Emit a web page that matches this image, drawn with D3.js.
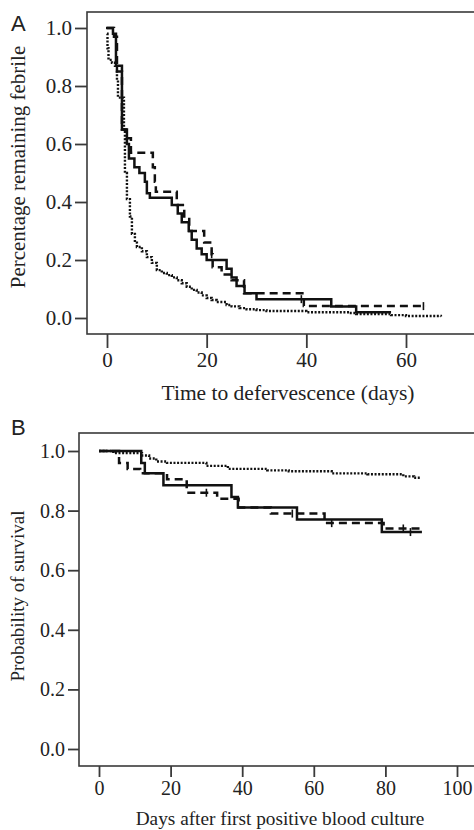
<!DOCTYPE html>
<html><head><meta charset="utf-8">
<script src="https://cdn.jsdelivr.net/npm/d3@7"></script>
<style>
html,body{margin:0;padding:0;background:#fff;}
svg{display:block;}
text{font-family:"Liberation Serif","Times New Roman",serif;fill:#222;}
</style></head>
<body>
<svg id="chart" width="474" height="830"></svg>
<script>
// ---------- Panel A data: [day, proportion remaining febrile] (step changes) ----------
const aSolid = [[0,1],[1.2,0.98],[1.8,0.87],[3,0.65],[4,0.6],[4.4,0.55],[5.5,0.52],[6.5,0.5],[7.6,0.47],[8,0.43],[8.6,0.415],[13,0.39],[14.2,0.36],[15,0.33],[16.4,0.3],[17,0.27],[18,0.24],[19,0.22],[20,0.2],[24,0.17],[25,0.14],[26,0.11],[27.6,0.085],[30,0.065],[45,0.04],[50,0.02],[57,0.02]];
const aDashed = [[-0.2,1],[1.4,0.97],[2,0.85],[3,0.65],[3.8,0.62],[4.8,0.57],[9.2,0.52],[9.6,0.47],[9.8,0.435],[14,0.39],[15.5,0.35],[16.5,0.3],[19.5,0.26],[21,0.22],[21.2,0.175],[23,0.15],[25,0.13],[27.5,0.085],[39.5,0.041],[64,0.041]];
const aDotted = [[0,0.98],[0.1,0.93],[0.3,0.89],[1,0.88],[1.6,0.87],[2,0.82],[2.2,0.76],[3.4,0.65],[3.6,0.5],[4,0.41],[4.6,0.35],[5,0.29],[5.6,0.26],[6,0.245],[7,0.23],[8,0.21],[9,0.19],[10,0.165],[11,0.155],[12,0.148],[13,0.14],[14,0.13],[15,0.12],[16,0.108],[17,0.097],[18,0.088],[19,0.078],[20,0.069],[21,0.062],[22,0.055],[24,0.045],[25,0.04],[26.6,0.034],[28,0.03],[30,0.027],[32,0.024],[40,0.02],[48.6,0.017],[50,0.014],[57,0.01],[60,0.007],[67,0.005]];
const aSolidCens = [39];
const aDashedCens = [21, 63.5];
const aXTicks = [0, 20, 40, 60];
const aYTicks = [0, 0.2, 0.4, 0.6, 0.8, 1.0];

// ---------- Panel B data: [day, probability of survival] ----------
const bSolid = [[0,1],[11.8,0.96],[12.8,0.925],[18,0.885],[37,0.846],[38.8,0.81],[55.3,0.77],[79,0.728],[90.2,0.728]];
const bDashed = [[0,1],[5.6,0.96],[8,0.94],[11.5,0.925],[19,0.905],[24.5,0.86],[33,0.84],[39,0.81],[48,0.79],[63,0.758],[79.5,0.74],[90,0.735]];
const bDotted = [[0,1],[4,0.993],[12,0.985],[14,0.975],[16,0.965],[19,0.96],[30,0.95],[36,0.94],[47,0.935],[53,0.932],[65,0.925],[75,0.922],[85,0.915],[88,0.91],[90,0.91]];
const bDashedCens = [30, 54, 65, 85];
const bSolidCens = [87];
const bXTicks = [0, 20, 40, 60, 80, 100];
const bYTicks = [0, 0.2, 0.4, 0.6, 0.8, 1.0];

const svg = d3.select("#chart");
const boxColor = "#3a3a3a";

const styles = {
  solid: {dash: null},
  dashed: {dash: "8,5"},
  dotted: {dash: "2,1.6"}
};

function drawPanel(cfg) {
  const g = svg.append("g");
  const x = d3.scaleLinear().domain(cfg.xDomain).range(cfg.xRange);
  const y = d3.scaleLinear().domain([0, 1]).range(cfg.yRange);

  g.append("rect")
    .attr("x", cfg.box[0]).attr("y", cfg.box[1])
    .attr("width", cfg.box[2] - cfg.box[0]).attr("height", cfg.box[3] - cfg.box[1])
    .attr("fill", "none").attr("stroke", boxColor).attr("stroke-width", 1.6);

  const xAxis = g.append("g").attr("transform", `translate(0,${cfg.box[3]})`)
    .call(d3.axisBottom(x).tickValues(cfg.xTicks).tickSize(cfg.xTickLen).tickPadding(cfg.xTickPad).tickFormat(d3.format("d")));
  xAxis.select(".domain").remove();
  xAxis.selectAll("line").attr("stroke", boxColor).attr("stroke-width", 1.8);
  xAxis.selectAll("text").attr("font-size", cfg.tickFont).attr("fill", "#222")
    .style("font-family", '"Liberation Serif", serif');

  const yAxis = g.append("g").attr("transform", `translate(${cfg.box[0]},0)`)
    .call(d3.axisLeft(y).tickValues(cfg.yTicks).tickSize(cfg.yTickLen).tickPadding(3).tickFormat(d3.format(".1f")));
  yAxis.select(".domain").remove();
  yAxis.selectAll("line").attr("stroke", boxColor).attr("stroke-width", 1.8);
  yAxis.selectAll("text").attr("font-size", cfg.tickFont).attr("fill", "#222")
    .style("font-family", '"Liberation Serif", serif');

  const line = d3.line().x(d => x(d[0])).y(d => y(d[1])).curve(d3.curveStepAfter);

  cfg.series.forEach(s => {
    g.append("path").datum(s.data)
      .attr("d", line)
      .attr("fill", "none").attr("stroke", "#111")
      .attr("stroke-width", s.kind === "dotted" ? 2.4 : 2.5)
      .attr("stroke-dasharray", styles[s.kind].dash);
    (s.cens || []).forEach(c => {
      let v = s.data[0][1];
      s.data.forEach(p => { if (p[0] <= c) v = p[1]; });
      g.append("line")
        .attr("x1", x(c)).attr("x2", x(c))
        .attr("y1", y(v) - 4).attr("y2", y(v) + 4)
        .attr("stroke", "#111").attr("stroke-width", 1.6);
    });
  });

  g.append("text").attr("x", cfg.xTitlePos[0]).attr("y", cfg.xTitlePos[1])
    .attr("text-anchor", "middle").attr("font-size", cfg.xTitleFont).text(cfg.xTitle);
  g.append("text")
    .attr("transform", `translate(${cfg.yTitlePos[0]},${cfg.yTitlePos[1]}) rotate(-90)`)
    .attr("text-anchor", "middle").attr("font-size", cfg.yTitleFont).text(cfg.yTitle);

  g.append("text").attr("x", cfg.letterPos[0]).attr("y", cfg.letterPos[1])
    .attr("font-size", 22).style("font-family", '"Liberation Sans", Arial, sans-serif').text(cfg.letter);
}

drawPanel({
  letter: "A", letterPos: [11, 31],
  xDomain: [0, 60], xRange: [107, 406],
  yRange: [318, 28],
  box: [87, 12, 480, 334],
  xTicks: aXTicks, yTicks: aYTicks,
  xTickLen: 14, xTickPad: 4, yTickLen: 12, tickFont: 21,
  series: [
    {kind: "dotted", data: aDotted},
    {kind: "dashed", data: aDashed, cens: aDashedCens},
    {kind: "solid", data: aSolid, cens: aSolidCens}
  ],
  xTitle: "Time to defervescence (days)", xTitlePos: [288, 400], xTitleFont: 21.5,
  yTitle: "Percentage remaining febrile", yTitlePos: [25, 167], yTitleFont: 21
});

drawPanel({
  letter: "B", letterPos: [11, 435],
  xDomain: [0, 100], xRange: [99, 457],
  yRange: [749, 451],
  box: [79, 433, 480, 766],
  xTicks: bXTicks, yTicks: bYTicks,
  xTickLen: 11, xTickPad: 4, yTickLen: 11, tickFont: 20,
  series: [
    {kind: "dotted", data: bDotted},
    {kind: "dashed", data: bDashed, cens: bDashedCens},
    {kind: "solid", data: bSolid, cens: bSolidCens}
  ],
  xTitle: "Days after first positive blood culture", xTitlePos: [280, 825], xTitleFont: 19.3,
  yTitle: "Probability of survival", yTitlePos: [24, 596], yTitleFont: 19
});
</script>
</body></html>
